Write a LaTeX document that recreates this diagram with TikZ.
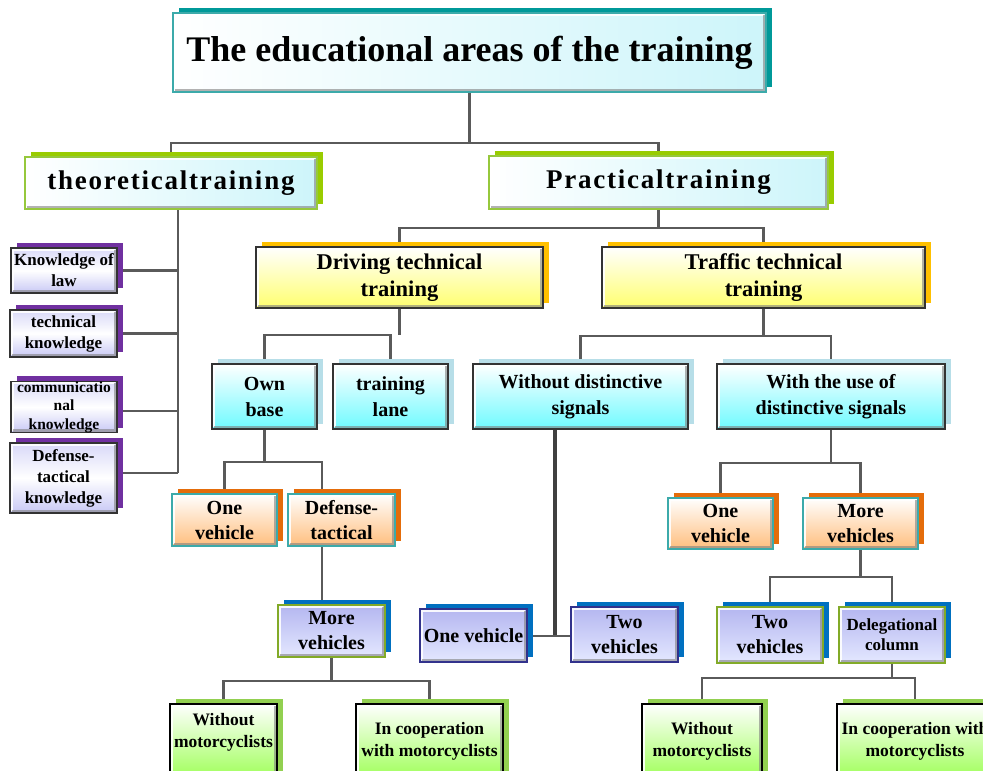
\documentclass[tikz,border=0pt]{standalone}
\usepackage{fontspec}
\setmainfont{Liberation Serif}
\usetikzlibrary{shadows,backgrounds}
\pgfdeclarelayer{conns}
\pgfsetlayers{background,conns,main}
\newcommand{\myfs}[2]{\fontsize{#1}{#2}\selectfont\bfseries}
\definecolor{tealS}{RGB}{0,153,153}
\definecolor{tealB}{RGB}{60,170,170}
\definecolor{greenS}{RGB}{153,204,0}
\definecolor{greenB}{RGB}{150,200,60}
\definecolor{goldS}{RGB}{255,192,0}
\definecolor{yellowF}{RGB}{255,255,110}
\definecolor{paleS}{RGB}{183,222,232}
\definecolor{cyanF}{RGB}{110,250,255}
\definecolor{purpS}{RGB}{112,48,160}
\definecolor{lavF}{RGB}{200,200,245}
\definecolor{orangeS}{RGB}{228,108,10}
\definecolor{peachF}{RGB}{255,190,125}
\definecolor{blueS}{RGB}{0,112,192}
\definecolor{lavB}{RGB}{180,182,240}
\definecolor{lavB2}{RGB}{228,232,255}
\definecolor{navyB}{RGB}{50,50,140}
\definecolor{oliveB}{RGB}{130,170,40}
\definecolor{grnS}{RGB}{146,208,80}
\definecolor{grnF}{RGB}{160,255,90}
\definecolor{iceF}{RGB}{205,245,250}
\definecolor{connC}{RGB}{90,90,90}
\newcommand{\bx}[7]{\node[#2, minimum width={#5pt-#3pt}, minimum height={#6pt-#4pt}] (#1) at ({(#3+#5)/2},{(#4+#6)/2}) {#7};}
\tikzset{
  shd/.style={general shadow={shadow xshift=6pt, shadow yshift=5pt, fill=#1}},
  bevel/.style={path picture={
    \draw[white, line width=2pt, opacity=.9]
      ([shift={(2pt,2pt)}]path picture bounding box.south west) |- ([shift={(-2pt,-2pt)}]path picture bounding box.north east);
    \draw[black!50, line width=2.5pt, opacity=.6]
      ([shift={(2pt,2pt)}]path picture bounding box.south west) -| ([shift={(-2pt,-2pt)}]path picture bounding box.north east);
  }},
  boxbase/.style={inner sep=0pt, align=center, line width=1.1pt, bevel},
  titlebox/.style={boxbase, shd=tealS, draw=tealB, left color=white, right color=iceF, font=\myfs{36}{40}},
  lvlone/.style={boxbase, shd=greenS, draw=greenB, left color=white, right color=iceF, font=\myfs{27}{30}\addfontfeature{LetterSpace=6.5}},
  lvltwo/.style={boxbase, shd=goldS, draw=black!80, top color=white, bottom color=yellowF, font=\myfs{22.5}{27}},
  cyanbox/.style={boxbase, shd=paleS, draw=black!80, top color=white, bottom color=cyanF, font=\myfs{20}{26}},
  purpbox/.style={boxbase, shd=purpS, draw=black!80, top color=lavF!70, bottom color=lavF, middle color=white, font=\myfs{17}{21}},
  orbox/.style={boxbase, shd=orangeS, draw=tealB, top color=white, bottom color=peachF, font=\myfs{20}{25}},
  bluebox/.style={boxbase, shd=blueS, top color=lavB, bottom color=lavB2, font=\myfs{20}{25}},
  grbox/.style={boxbase, shd=grnS, draw=black, top color=white, bottom color=grnF, font=\myfs{17.5}{22}},
  conn/.style={draw=connC, line width=2.2pt},
}
\begin{document}
\begin{tikzpicture}[x=1pt,y=-1pt]
\useasboundingbox (0,0) rectangle (983,771);
\clip (0,0) rectangle (983,771);
\begin{pgfonlayer}{background}
\fill[white] (0,0) rectangle (983,771);
\end{pgfonlayer}
% boxes
\bx{title}{titlebox}{173}{13}{766}{92}{The educational areas of the training}
\bx{theo}{lvlone}{25}{157}{317}{209}{theoreticaltraining}
\bx{prac}{lvlone}{489}{156}{828}{209}{Practicaltraining}
\bx{drv}{lvltwo}{256}{247}{543}{308}{Driving technical\\training}
\bx{trf}{lvltwo}{602}{247}{925}{308}{Traffic technical\\training}
\bx{own}{cyanbox}{212}{364}{317}{429}{Own\\base}
\bx{lane}{cyanbox}{333}{364}{448}{429}{training\\lane}
\bx{wds}{cyanbox}{473}{364}{688}{429}{Without distinctive\\signals}
\bx{wuds}{cyanbox}{717}{364}{945}{429}{With the use of\\distinctive signals}
\bx{ka}{purpbox}{11}{248}{117}{293}{Knowledge of\\law}
\bx{kb}{purpbox}{10}{310}{117}{357}{technical\\knowledge}
\bx{kc}{purpbox,font=\myfs{15.5}{18.5}}{11}{382}{117}{432}{communicatio\\nal\\knowledge}
\bx{kd}{purpbox}{10}{443}{117}{513}{Defense-\\tactical\\knowledge}
\bx{ova}{orbox}{172}{494}{277}{546}{One\\vehicle}
\bx{dt}{orbox}{288}{494}{395}{546}{Defense-\\tactical}
\bx{mva}{bluebox,draw=oliveB}{278}{605}{385}{657}{More\\vehicles}
\bx{wma}{grbox}{170}{704}{277}{778}{Without\\motorcyclists\\[0pt]\mbox{}}
\bx{cma}{grbox}{356}{704}{503}{778}{In cooperation\\with motorcyclists}
\bx{ovb}{bluebox,draw=navyB}{420}{609}{527}{662}{One vehicle}
\bx{tvb}{bluebox,draw=navyB}{571}{607}{678}{662}{Two\\vehicles}
\bx{ovc}{orbox}{668}{498}{773}{549}{One\\vehicle}
\bx{mvc}{orbox}{803}{498}{918}{549}{More\\vehicles}
\bx{tvc}{bluebox,draw=oliveB}{717}{607}{823}{663}{Two\\vehicles}
\bx{dc}{bluebox,draw=oliveB,font=\myfs{17}{20}}{839}{607}{945}{663}{Delegational\\column}
\bx{wmc}{grbox}{642}{704}{762}{778}{Without\\motorcyclists}
\bx{cmc}{grbox}{837}{704}{993}{778}{In cooperation with\\motorcyclists}
% connectors
\begin{pgfonlayer}{conns}
\coordinate (busA) at (0,143);
\coordinate (busB) at (0,228);
\coordinate (busC) at (0,335);
\coordinate (busD) at (0,336);
\coordinate (busE) at (0,462);
\coordinate (busF) at (0,681);
\coordinate (busG) at (0,463);
\coordinate (busH) at (0,577);
\coordinate (busI) at (0,678);
\coordinate (spine) at (178,473);
\coordinate (dtx) at (322,462);
\coordinate (jn) at (555,636);
\draw[conn] (title.south) -- (title.south |- busA);
\draw[conn] (theo.north) |- (prac.north |- busA) -- (prac.north);
\draw[conn] (theo.south -| spine) -- (spine);
\draw[conn] (ka.east) -- (ka.east -| spine);
\draw[conn] (kb.east) -- (kb.east -| spine);
\draw[conn] (kc.east |- 0,411) -- (spine |- 0,411);
\draw[conn] (kd.east |- spine) -- (spine);
\draw[conn] (prac.south) -- (prac.south |- busB);
\draw[conn] (drv.north) |- (trf.north |- busB) -- (trf.north);
\draw[conn] (drv.south) -- (drv.south |- busC);
\draw[conn] (own.north) |- (lane.north |- busC) -- (lane.north);
\draw[conn] (trf.south) -- (trf.south |- busD);
\draw[conn] (wds.north) |- (wuds.north |- busD) -- (wuds.north);
\draw[conn] (own.south) -- (own.south |- busE);
\draw[conn] (ova.north) |- (dtx) -- (dt.north -| dtx);
\draw[conn] (dt.south -| dtx) -- (mva.north -| dtx);
\draw[conn] (mva.south) -- (mva.south |- busF);
\draw[conn] (wma.north) |- (cma.north |- busF) -- (cma.north);
\draw[draw=black!75, line width=3.5pt] (wds.south -| jn) -- (jn);
\draw[conn] (ovb.east |- jn) -- (tvb.west |- jn);
\draw[conn] (wuds.south) -- (wuds.south |- busG);
\draw[conn] (ovc.north) |- (mvc.north |- busG) -- (mvc.north);
\draw[conn] (mvc.south) -- (mvc.south |- busH);
\draw[conn] (tvc.north) |- (dc.north |- busH) -- (dc.north);
\draw[conn] (dc.south) -- (dc.south |- busI);
\draw[conn] (wmc.north) |- (cmc.north |- busI) -- (cmc.north);
\end{pgfonlayer}
\end{tikzpicture}
\end{document}
